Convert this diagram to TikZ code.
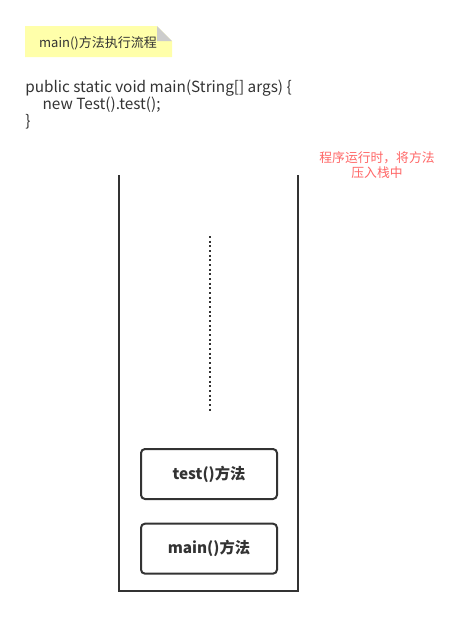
\documentclass[tikz,border=0pt]{standalone}
\usepackage{fontspec}
\setmainfont{Noto Sans CJK SC}
\usetikzlibrary{positioning}

\definecolor{notefill}{RGB}{255,255,170}
\definecolor{notefold}{RGB}{204,204,204}
\definecolor{txtgray}{RGB}{51,51,51}
\definecolor{hintred}{RGB}{255,102,102}

\tikzset{
  frame/.style={draw=txtgray, line width=1.5pt},
  method/.style={draw=txtgray, line width=1.5pt, rounded corners=3pt,
    minimum width=102pt, minimum height=37.5pt, inner sep=0pt,
    font=\fontsize{11.5pt}{13pt}\selectfont\bfseries, text=txtgray},
}

\begin{document}
\begin{tikzpicture}[x=0.75pt, y=-0.75pt]
\useasboundingbox (0,0) rectangle (463,618);

% --- Note with folded corner
\fill[notefill] (25,26) -- (157,26) -- (172,41) -- (172,57) -- (25,57) -- cycle;
\fill[notefold] (157,26) -- (172,41) -- (157,41) -- cycle;
\node[font=\fontsize{9.75pt}{11pt}\selectfont, text=txtgray] (title) at (98,43) {main()方法执行流程};

% --- Code text
\node[anchor=north west, align=left, inner sep=0pt,
  font=\fontsize{11.5pt}{12.75pt}\selectfont, text=txtgray] (code) at (25,80)
  {public static void main(String[] args) \{\\
  \hspace*{13pt}new Test().test();\\
  \}};

% --- Hint
\node[align=center, font=\fontsize{9.6pt}{11.25pt}\selectfont, text=hintred] (hint) at (377,165)
  {程序运行时，将方法\\压入栈中};

% --- Stack
\coordinate (topleft) at (119,175);
\coordinate (botleft) at (119,591);
\coordinate (botright) at (298,591);
\coordinate (topright) at (298,175);
\draw[frame] (topleft) -- (botleft) -- (botright) -- (topright);

% --- Dots
\coordinate (dottop) at (210,236);
\coordinate (dotbot) at (210,411);
\draw[line width=1.5pt, dotted, txtgray] (dottop) -- (dotbot);

% --- Frames on the stack
\node[method] (test) at (209,474) {test()方法};
\node[method, below=17pt of test] (main) {main()方法};

\end{tikzpicture}
\end{document}
